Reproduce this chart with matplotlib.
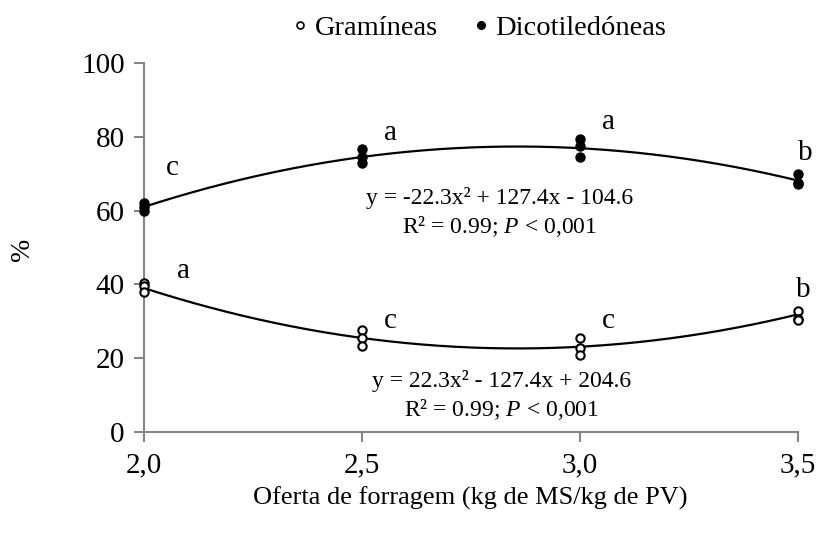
import numpy as np
import matplotlib
matplotlib.use("Agg")
import matplotlib.pyplot as plt
from matplotlib.lines import Line2D

plt.rcParams['font.family'] = ['Liberation Serif', 'DejaVu Serif']
plt.rcParams['mathtext.fontset'] = 'custom'
plt.rcParams['mathtext.rm'] = 'Liberation Serif'
plt.rcParams['mathtext.it'] = 'Liberation Serif:italic'

# Data
x_levels = [2.0, 2.5, 3.0, 3.5]
dico_vals = [[62.0, 61.0, 60.0], [76.8, 74.5, 72.8], [79.3, 77.5, 74.6], [69.9, 67.6, 67.3]]
gram_vals = [[40.4, 39.6, 37.8], [27.6, 25.6, 23.3], [25.5, 22.8, 20.9], [32.9, 30.6, 30.4]]
dico_coef = [-22.3, 127.4, -104.6]
gram_coef = [22.3, -127.4, 204.6]
dico_letters = ['c', 'a', 'a', 'b']
gram_letters = ['a', 'c', 'c', 'b']
dico_letter_pos = [(2.05, 71.5), (2.55, 81.0), (3.05, 84.0), (3.50, 75.5)]
gram_letter_pos = [(2.075, 43.5), (2.55, 30.0), (3.05, 30.0), (3.495, 38.5)]
xticks = [2.0, 2.5, 3.0, 3.5]
xtick_labels = ['2,0', '2,5', '3,0', '3,5']
yticks = [0, 20, 40, 60, 80, 100]

fig = plt.figure(figsize=(8.16, 5.42), dpi=100)
ax = fig.add_axes([0.1765, 0.203, 0.978 - 0.1765, 0.8838 - 0.203])

xs = np.linspace(2.0, 3.5, 200)
ax.plot(xs, np.polyval(dico_coef, xs), color='black', lw=1.6, zorder=2)
ax.plot(xs, np.polyval(gram_coef, xs), color='black', lw=1.6, zorder=2)

for xv, vals in zip(x_levels, dico_vals):
    ax.plot([xv] * len(vals), vals, 'o', color='black', ms=6.5, clip_on=False, zorder=3)
for xv, vals in zip(x_levels, gram_vals):
    ax.plot([xv] * len(vals), vals, 'o', mfc='white', mec='black', mew=1.5, ms=6, clip_on=False,
            zorder=3)

for t, (px, py) in zip(dico_letters, dico_letter_pos):
    ax.text(px, py, t, fontsize=21, ha='left', va='center')
for t, (px, py) in zip(gram_letters, gram_letter_pos):
    ax.text(px, py, t, fontsize=21, ha='left', va='center')

ax.text(2.815, 63.4, 'y = -22.3x² + 127.4x - 104.6', fontsize=17, ha='center', va='center')
ax.text(2.815, 55.8, 'R² = 0.99; $P$ < 0,001', fontsize=17, ha='center', va='center')
ax.text(2.82, 13.8, 'y = 22.3x² - 127.4x + 204.6', fontsize=17, ha='center', va='center')
ax.text(2.82, 6.2, 'R² = 0.99; $P$ < 0,001', fontsize=17, ha='center', va='center')

ax.set_xlim(2.0, 3.5)
ax.set_ylim(0, 100)
ax.set_xticks(xticks)
ax.set_xticklabels(xtick_labels)
ax.set_yticks(yticks)
for s in ['top', 'right']:
    ax.spines[s].set_visible(False)
for s in ['left', 'bottom']:
    ax.spines[s].set_color('#868686')
    ax.spines[s].set_linewidth(1.5)
ax.tick_params(axis='both', colors='#868686', length=7, width=1.5, labelsize=21,
               labelcolor='black', direction='out')
ax.tick_params(axis='x', pad=8)
ax.tick_params(axis='y', pad=7)

fig.text(0.027, 0.54, '%', fontsize=20, ha='center', va='center', rotation=90)
fig.text(0.576, 0.081, 'Oferta de forragem (kg de MS/kg de PV)', fontsize=19, ha='center', va='center')

# Legend
handles = [Line2D([], [], ls='none', marker='o', mfc='white', mec='black', mew=1.2, ms=5),
           Line2D([], [], ls='none', marker='o', color='black', ms=5.5)]
fig.legend(handles, ['Gramíneas', 'Dicotiledóneas'], loc='center', bbox_to_anchor=(0.585, 0.948),
           ncol=2, frameon=False, fontsize=20.5, handletextpad=0.1, columnspacing=1.1,
           handlelength=0.8)

fig.savefig('out.png', dpi=100)
